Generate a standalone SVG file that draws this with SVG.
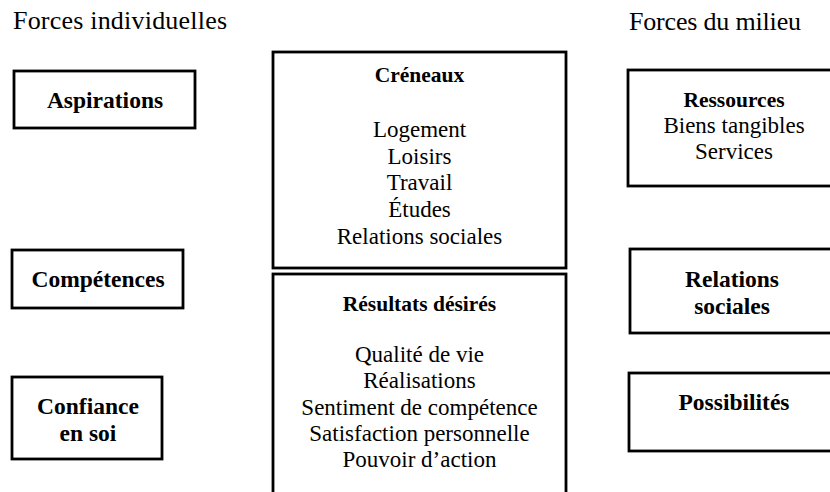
<svg xmlns="http://www.w3.org/2000/svg" width="830" height="492" viewBox="0 0 830 492">
<style>
.box{fill:#fff;stroke:#000;stroke-width:2.8}
text{font-family:"Liberation Serif","Times New Roman",serif;fill:#000}
.h{font-size:26px}
.lb{font-size:23.5px;font-weight:bold;text-anchor:middle}
.hd{font-size:21.5px;font-weight:bold;text-anchor:middle}
.t{font-size:23px;text-anchor:middle}
</style>
<rect x="0" y="0" width="830" height="492" fill="#fff"/>
<g id="headings">
<text class="h" x="13" y="29" textLength="214">Forces individuelles</text>
<text class="h" x="629" y="30" textLength="172">Forces du milieu</text>
</g>
<g id="aspirations">
<rect class="box" x="14" y="71" width="181" height="57"/>
<text class="lb" x="105" y="108">Aspirations</text>
</g>
<g id="competences">
<rect class="box" x="12" y="250" width="171" height="58"/>
<text class="lb" x="98" y="287">Compétences</text>
</g>
<g id="confiance">
<rect class="box" x="12" y="377" width="150" height="82"/>
<text class="lb" x="88" y="414">Confiance</text>
<text class="lb" x="88" y="441">en soi</text>
</g>
<g id="creneaux">
<rect class="box" x="273" y="52" width="293" height="216"/>
<text class="hd" x="419.5" y="82">Créneaux</text>
<text class="t" x="419.5" y="137">Logement</text>
<text class="t" x="419.5" y="164">Loisirs</text>
<text class="t" x="419.5" y="190">Travail</text>
<text class="t" x="419.5" y="217">Études</text>
<text class="t" x="419.5" y="244">Relations sociales</text>
</g>
<g id="resultats">
<rect class="box" x="273" y="274" width="293" height="230"/>
<text class="hd" x="419.5" y="311">Résultats désirés</text>
<text class="t" x="419.5" y="362">Qualité de vie</text>
<text class="t" x="419.5" y="388">Réalisations</text>
<text class="t" x="419.5" y="415">Sentiment de compétence</text>
<text class="t" x="419.5" y="441">Satisfaction personnelle</text>
<text class="t" x="419.5" y="467">Pouvoir d’action</text>
</g>
<g id="ressources">
<rect class="box" x="628" y="70" width="212" height="116"/>
<text class="hd" x="734" y="107">Ressources</text>
<text class="t" x="734" y="133">Biens tangibles</text>
<text class="t" x="734" y="159">Services</text>
</g>
<g id="relations">
<rect class="box" x="630" y="249" width="210" height="84"/>
<text class="lb" x="732" y="287">Relations</text>
<text class="lb" x="732" y="314">sociales</text>
</g>
<g id="possibilites">
<rect class="box" x="629" y="373" width="211" height="78"/>
<text class="lb" x="734" y="410">Possibilités</text>
</g>
<g id="connectors"></g>
</svg>
